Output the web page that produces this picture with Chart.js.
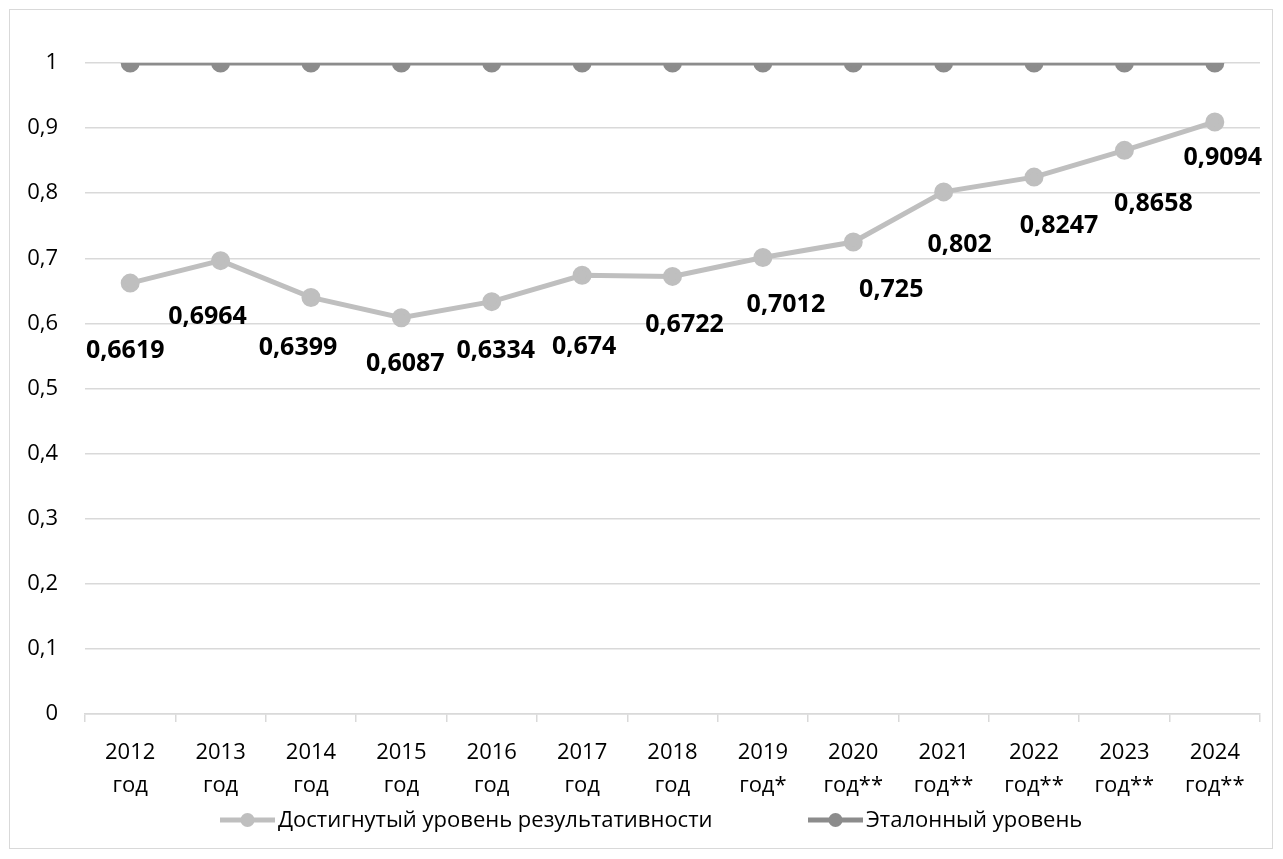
<!DOCTYPE html>
<html lang="ru">
<head>
<meta charset="UTF-8">
<title>Уровень результативности</title>
<style>
  body{margin:0;background:#fff;}
  #wrap{position:absolute;left:9px;top:9px;width:1262px;height:838px;border:1px solid #d9d9d9;}
  canvas{display:block;}
</style>
<script src="https://cdn.jsdelivr.net/npm/chart.js"></script>
</head>
<body>
<div id="wrap"><canvas id="c" width="1262" height="838"></canvas></div>
<script>
// данные
const years = ['2012','2013','2014','2015','2016','2017','2018','2019','2020','2021','2022','2023','2024'];
const marks = ['год','год','год','год','год','год','год','год*','год**','год**','год**','год**','год**'];
const achieved = [0.6619,0.6964,0.6399,0.6087,0.6334,0.674,0.6722,0.7012,0.725,0.802,0.8247,0.8658,0.9094];
const reference = [1,1,1,1,1,1,1,1,1,1,1,1,1];

// сдвиг подписей относительно точки (как в исходнике)
const labelShift = [[-5,68],[-13,56],[-13,50],[4,46],[4,49],[2,72],[12,48],[23,47],[38,48],[16,53],[25,49],[29,54],[8,36]];

const FONT = "'Open Sans', sans-serif";
const C_ACH = '#bfbfbf', C_REF = '#8c8c8c';

const valueLabels = {
  id:'valueLabels',
  afterDatasetsDraw(chart){
    const ctx = chart.ctx;
    const meta = chart.getDatasetMeta(0);
    ctx.save();
    ctx.font = "bold 25px " + FONT;
    ctx.fillStyle = '#000';
    ctx.textAlign = 'center';
    ctx.textBaseline = 'middle';
    meta.data.forEach((p,i)=>{
      const s = labelShift[i];
      ctx.fillText(String(achieved[i]).replace('.',','), p.x + s[0], p.y + s[1]);
    });
    ctx.restore();
  }
};

// легенда как в Excel: линия с маркером, разнесённые элементы
const legendX = [210, 798];
const excelLegend = {
  id:'excelLegend',
  afterDraw(chart){
    const ctx = chart.ctx;
    const y = chart.chartArea.bottom + 106;
    ctx.save();
    ctx.font = "22px " + FONT;
    ctx.textBaseline = 'middle';
    ctx.textAlign = 'left';
    chart.data.datasets.forEach((d,i)=>{
      const x = legendX[i];
      ctx.strokeStyle = d.borderColor; ctx.lineWidth = 5;
      ctx.beginPath(); ctx.moveTo(x, y); ctx.lineTo(x+55, y); ctx.stroke();
      ctx.fillStyle = d.borderColor;
      ctx.beginPath(); ctx.arc(x+27.5, y, 7, 0, Math.PI*2); ctx.fill();
      ctx.fillStyle = '#000';
      ctx.fillText(d.label, x+58, y+1);
    });
    ctx.restore();
  }
};

new Chart(document.getElementById('c'), {
  type:'line',
  data:{
    labels: years.map((y,i)=>[y, marks[i]]),
    datasets:[
      {label:'Достигнутый уровень результативности', data:achieved, borderColor:C_ACH, backgroundColor:C_ACH,
       borderWidth:5, pointRadius:7, pointHoverRadius:7, tension:0},
      {label:'Эталонный уровень', data:reference, borderColor:C_REF, backgroundColor:C_REF,
       borderWidth:5, pointRadius:7, pointHoverRadius:7, tension:0}
    ]
  },
  options:{
    responsive:false,
    animation:false,
    layout:{padding:{top:53,right:8,left:0,bottom:34}},
    plugins:{
      tooltip:{enabled:false},
      legend:{display:false}
    },
    scales:{
      x:{
        offset:true,
        grid:{offset:true, display:true, drawOnChartArea:false, drawTicks:true, tickLength:8, color:'#d9d9d9', lineWidth:1.5},
        border:{display:true,color:'#d9d9d9',width:1.5},
        ticks:{font:{family:FONT,size:22,lineHeight:1.52},color:'#000',maxRotation:0,autoSkip:false,padding:14},
        afterFit(s){ s.height = 100; }
      },
      y:{
        min:0,max:1,
        ticks:{stepSize:0.1,font:{family:FONT,size:22},color:'#000',padding:27,
          callback:v=>String(Math.round(v*10)/10).replace('.',',')},
        grid:{color:'#d9d9d9',lineWidth:1.5,drawTicks:false},
        border:{display:false},
        afterFit(s){ s.width = 75; }
      }
    }
  },
  plugins:[valueLabels, excelLegend]
});
</script>
</body>
</html>
